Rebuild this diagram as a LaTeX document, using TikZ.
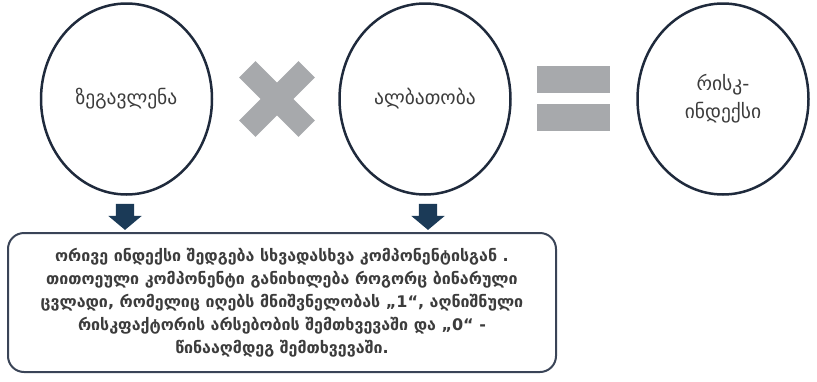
\documentclass[tikz,border=0pt]{standalone}
\usepackage{fontspec}
\setmainfont{DejaVu Sans}
\usetikzlibrary{shapes.geometric,shapes.arrows,positioning}
\definecolor{ringNavy}{HTML}{1F2A3C}
\definecolor{signGray}{HTML}{A7A9AC}
\definecolor{arrowBlue}{HTML}{1B3A57}
\definecolor{boxNavy}{HTML}{3A4457}
\definecolor{textGray}{HTML}{3C3C3C}
\tikzset{%
  % Specifications for style of nodes:
        ring/.style = {ellipse, draw=ringNavy, line width=2.5pt,
                       minimum width=171pt, minimum height=191pt,
                       inner sep=0pt, align=center, text=textGray,
                       font=\fontsize{19.5}{28}\selectfont},
     signbar/.style = {rectangle, fill=signGray, inner sep=0pt,
                       minimum width=73pt, minimum height=27pt},
    crossbar/.style = {signbar, minimum width=84pt, minimum height=23pt},
   downArrow/.style = {single arrow, fill=arrowBlue, rotate=-90,
                       inner sep=9pt, single arrow head extend=7.5pt,
                       single arrow tip angle=100, minimum height=20pt},
        note/.style = {rectangle, rounded corners=16pt, draw=boxNavy,
                       line width=2pt, minimum width=548pt,
                       minimum height=139pt, align=center, text=textGray,
                       font=\bfseries\fontsize{16}{23}\selectfont},
}
\begin{document}
\begin{tikzpicture}[x=1pt, y=-1pt]
  \useasboundingbox (0,0) rectangle (817,381);
  % Specification of nodes (position, etc.)
    \node (impact)      [ring] at (126.5,99)  {ზეგავლენა};
    \node (likelihood)  [ring] at (425,99)    {ალბათობა};
    \node (riskIndex)   [ring] at (723,99)    {რისკ-\\ინდექსი};
    \node (crossA)      [crossbar, rotate=45]  at (277,99) {};
    \node (crossB)      [crossbar, rotate=-45] at (277,99) {};
    \node (equalTop)    [signbar] at (573.5,79)  {};
    \node (equalBottom) [signbar, below=11pt of equalTop] {};
    \node (arrowLeft)   [downArrow] at (125,213) {};
    \node (arrowRight)  [downArrow] at (428,213) {};
    \node (explain)     [note] at (282,302.5)
      {ორივე ინდექსი შედგება სხვადასხვა კომპონენტისგან .\\
       თითოეული კომპონენტი განიხილება როგორც ბინარული\\
       ცვლადი, რომელიც იღებს მნიშვნელობას „1“, აღნიშნული\\
       რისკფაქტორის არსებობის შემთხვევაში და „0“ -\\
       წინააღმდეგ შემთხვევაში.};
\end{tikzpicture}
\end{document}
